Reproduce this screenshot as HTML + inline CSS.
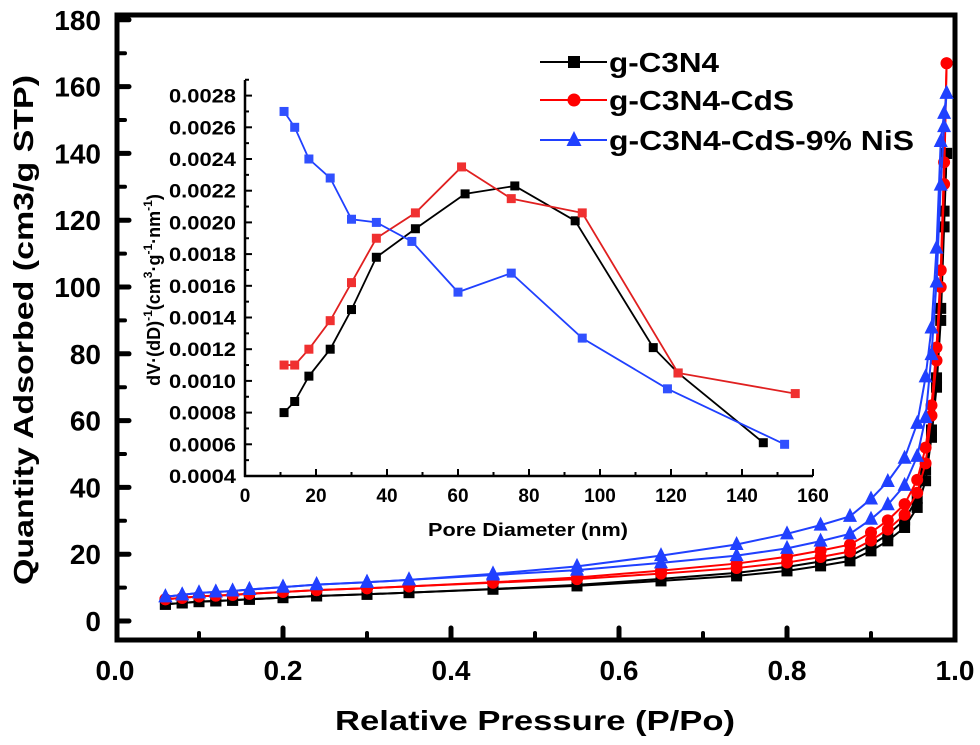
<!DOCTYPE html>
<html><head><meta charset="utf-8"><style>
html,body{margin:0;padding:0;background:#fff;}
svg{display:block;font-family:"Liberation Sans",Arial,sans-serif;font-weight:bold;}
</style></head><body>
<svg id="s" width="980" height="745" viewBox="0 0 980 745" xmlns="http://www.w3.org/2000/svg"></svg>
<script>
const s=document.getElementById('s');let h='';
const X=x=>115+x*840, Y=v=>621-v*66.8/20;
h+='<rect x="117" y="15" width="838" height="625" fill="none" stroke="#000" stroke-width="5"/>';
for(let v=0;v<=180;v+=10){const y=Y(v);const maj=v%20==0;
 h+=`<line x1="117" y1="${y}" x2="${117+(maj?12:8)}" y2="${y}" stroke="#000" stroke-width="${maj?5:4}" stroke-linecap="round"/>`;
 if(maj)h+=`<text x="101" y="${y+10}" font-size="28" text-anchor="end">${v}</text>`;}
for(let i=1;i<10;i++){const x=X(i/10);const maj=i%2==0;
 h+=`<line x1="${x}" y1="640" x2="${x}" y2="${640-(maj?12:7)}" stroke="#000" stroke-width="${maj?5:4}" stroke-linecap="round"/>`;}
for(let i=0;i<=5;i++){h+=`<text x="${X(i*0.2)}" y="680" font-size="28" text-anchor="middle">${(i*0.2).toFixed(1)}</text>`;}
h+='<text x="535" y="730" font-size="28" text-anchor="middle" textLength="400" lengthAdjust="spacingAndGlyphs">Relative Pressure (P/Po)</text>';
h+='<text transform="translate(33,330) rotate(-90)" font-size="28" text-anchor="middle" textLength="510" lengthAdjust="spacingAndGlyphs">Quantity Adsorbed (cm3/g STP)</text>';
const px=[0.06,0.08,0.10,0.12,0.14,0.16,0.2,0.24,0.3,0.35,0.45,0.55,0.65,0.74,0.8,0.84,0.875,0.9,0.92,0.94,0.955,0.965,0.972,0.978,0.983,0.987,0.99];
const base=[5,5.4,5.8,6,6.2,6.5,7,7.5,8,8.5,9.5,10.5,12,13.5,15,16.5,18,21,24,28,34,42,55,70,90,118,0];
function series(add,scale,top,hyst,cap){const a=[],d=[];
 px.forEach((x,i)=>{const last=i==px.length-1;let v=last?top:Math.min(base[i]*scale+add,cap);a.push([x,v]);
  let k=x>0.4?1+hyst*Math.min(1,(x-0.4)/0.4):1; if(x>0.97)k=1+hyst*0.5; d.push([x,last?top:Math.min(v*k,cap+4)]);});
 return [a,d];}
const S=[
 {c:'#000',m:'sq',d:series(0,1,140,0.08,135)},
 {c:'#f00',m:'ci',d:series(1,1.1,167,0.1,150)},
 {c:'#2040ff',m:'tr',d:series(0,1.45,158,0.2,148)}];
function mk(t,x,y,c,sz){if(t=='sq')return `<rect x="${x-sz}" y="${y-sz}" width="${2*sz}" height="${2*sz}" fill="${c}"/>`;
 if(t=='ci')return `<circle cx="${x}" cy="${y}" r="${sz+0.5}" fill="${c}"/>`;
 return `<polygon points="${x},${y-sz-3} ${x-sz-1.5},${y+sz} ${x+sz+1.5},${y+sz}" fill="${c}"/>`;}
S.forEach(o=>{o.d.forEach(b=>{const pts=b.map(p=>[X(p[0]),Y(p[1])]);
 h+=`<polyline points="${pts.map(p=>p.join(',')).join(' ')}" fill="none" stroke="${o.c}" stroke-width="2"/>`;
 pts.forEach(p=>h+=mk(o.m,p[0],p[1],o.c,5.5));});});
const IX=d=>245+d*71/20, IY=v=>476-(v-0.0004)/0.0002*31.7;
h+='<line x1="245" y1="80" x2="245" y2="477" stroke="#000" stroke-width="2.5"/><line x1="244" y1="476" x2="813" y2="476" stroke="#000" stroke-width="2.5"/>';
for(let k=4;k<=29;k++){const v=k*0.0001,y=IY(v),maj=k%2==0;
 h+=`<line x1="245" y1="${y}" x2="${245+(maj?7:4)}" y2="${y}" stroke="#000" stroke-width="2"/>`;
 if(maj)h+=`<text x="236" y="${y+7}" font-size="19" text-anchor="end" textLength="67" lengthAdjust="spacingAndGlyphs">${v.toFixed(4)}</text>`;}
for(let d=10;d<=160;d+=10){const x=IX(d),maj=d%20==0;
 h+=`<line x1="${x}" y1="476" x2="${x}" y2="${476-(maj?7:4)}" stroke="#000" stroke-width="2"/>`;}
for(let d=0;d<=160;d+=20)h+=`<text x="${IX(d)}" y="502" font-size="19" text-anchor="middle">${d}</text>`;
h+='<text x="528" y="536" font-size="18" text-anchor="middle" textLength="200" lengthAdjust="spacingAndGlyphs">Pore Diameter (nm)</text>';
h+='<text transform="translate(160,290) rotate(-90)" font-size="18" text-anchor="middle">dV·(dD)<tspan dy="-8" font-size="12">-1</tspan><tspan dy="8">(cm</tspan><tspan dy="-8" font-size="12">3</tspan><tspan dy="8">·g</tspan><tspan dy="-8" font-size="12">-1</tspan><tspan dy="8">·nm</tspan><tspan dy="-8" font-size="12">-1</tspan><tspan dy="8">)</tspan></text>';
const I=[
 ['#000','#000',[[11,0.0008],[14,0.00087],[18,0.00103],[24,0.0012],[30,0.00145],[37,0.00178],[48,0.00196],[62,0.00218],[76,0.00223],[93,0.00201],[115,0.00121],[122,0.00105],[146,0.00061]]],
 ['#e02020','#f03030',[[11,0.0011],[14,0.0011],[18,0.0012],[24,0.00138],[30,0.00162],[37,0.0019],[48,0.00206],[61,0.00235],[75,0.00215],[95,0.00206],[122,0.00105],[155,0.00092]]],
 ['#2040ff','#3050ff',[[11,0.0027],[14,0.0026],[18,0.0024],[24,0.00228],[30,0.00202],[37,0.002],[47,0.00188],[60,0.00156],[75,0.00168],[95,0.00127],[119,0.00095],[152,0.0006]]]];
I.forEach(o=>{const pts=o[2].map(p=>[IX(p[0]),IY(p[1])]);
 h+=`<polyline points="${pts.map(p=>p.join(',')).join(' ')}" fill="none" stroke="${o[0]}" stroke-width="1.8"/>`;
 pts.forEach(p=>h+=`<rect x="${p[0]-4.5}" y="${p[1]-4.5}" width="9" height="9" fill="${o[1]}"/>`);});
[['g-C3N4','#000','sq',62,110],['g-C3N4-CdS','#f00','ci',100,185],['g-C3N4-CdS-9% NiS','#2040ff','tr',140,305]].forEach(l=>{
 h+=`<line x1="540" y1="${l[3]}" x2="607" y2="${l[3]}" stroke="${l[1]}" stroke-width="2"/>`+mk(l[2],574,l[3],l[1],6);
 h+=`<text x="609" y="${l[3]+10}" font-size="28" textLength="${l[4]}" lengthAdjust="spacingAndGlyphs">${l[0]}</text>`;});
s.innerHTML=h;
</script>
</body></html>
